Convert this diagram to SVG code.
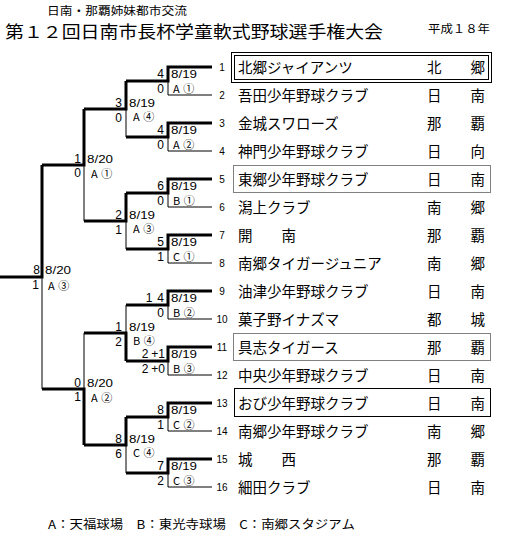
<svg xmlns="http://www.w3.org/2000/svg" width="510" height="544" viewBox="0 0 510 544">
<style>
.jp{font-family:"Noto Sans CJK JP","Noto Sans CJK SC",sans-serif;fill:#000}
.tm{font-family:"Noto Sans CJK JP",sans-serif;font-size:14.5px;fill:#000}
.n{font-family:"Liberation Sans",sans-serif;font-size:10px;fill:#000;text-anchor:middle}
.s{font-family:"Liberation Sans",sans-serif;font-size:12px;fill:#000;text-anchor:end}
.d{font-family:"Liberation Sans",sans-serif;font-size:11.5px;fill:#000}
.v{font-family:"Noto Sans CJK JP",sans-serif;font-size:11px;fill:#000;letter-spacing:3.5px}
.thick{fill:none;stroke:#000;stroke-width:3;stroke-linejoin:miter}
.thin{fill:none;stroke:#000;stroke-width:1}
.box{fill:none;stroke:#000;stroke-width:1}
.dot{fill:none;stroke:#000;stroke-width:1;stroke-dasharray:1 1}
</style>
<g id="header">
<text class="jp" x="47" y="14.5" font-size="11.5" textLength="140" lengthAdjust="spacingAndGlyphs">日南・那覇姉妹都市交流</text>
<text class="jp" x="5" y="37.5" font-size="16.5" textLength="378" lengthAdjust="spacingAndGlyphs">第１２回日南市長杯学童軟式野球選手権大会</text>
<text class="jp" x="428" y="33" font-size="11.5" textLength="62" lengthAdjust="spacingAndGlyphs">平成１８年</text>
</g>
<g id="connectors">
<path class="thick" d="M212,67H168V81H126"/><path class="thin" d="M212,95H168V81"/>
<path class="thick" d="M212,123H168V137H126"/><path class="thin" d="M212,151H168V137"/>
<path class="thick" d="M212,179H168V193H126"/><path class="thin" d="M212,207H168V193"/>
<path class="thick" d="M212,235H168V249H126"/><path class="thin" d="M212,263H168V249"/>
<path class="thick" d="M212,291H168V305H126"/><path class="thin" d="M212,319H168V305"/>
<path class="thick" d="M212,347H168V361H126"/><path class="thin" d="M212,375H168V361"/>
<path class="thick" d="M212,403H168V417H126"/><path class="thin" d="M212,431H168V417"/>
<path class="thick" d="M212,459H168V473H126"/><path class="thin" d="M212,487H168V473"/>
<path class="thick" d="M126,81V109H84"/><path class="thin" d="M126,137V109"/>
<path class="thick" d="M126,193V221H84"/><path class="thin" d="M126,249V221"/>
<path class="thick" d="M126,361V333H84"/><path class="thin" d="M126,305V333"/>
<path class="thick" d="M126,417V445H84"/><path class="thin" d="M126,473V445"/>
<path class="thick" d="M84,109V165H42"/><path class="thin" d="M84,221V165"/>
<path class="thick" d="M84,445V389H42"/><path class="thin" d="M84,333V389"/>
<path class="thick" d="M42,165V277H0"/><path class="thin" d="M42,389V277"/>
</g>
<g id="scores">
<text class="s" x="164" y="78">4</text><text class="d" x="171" y="78" textLength="26" lengthAdjust="spacingAndGlyphs">8/19</text><text class="s" x="164" y="93">0</text><text class="v" x="173" y="93">A①</text>
<text class="s" x="164" y="134">4</text><text class="d" x="171" y="134" textLength="26" lengthAdjust="spacingAndGlyphs">8/19</text><text class="s" x="164" y="149">0</text><text class="v" x="173" y="149">A②</text>
<text class="s" x="164" y="190">6</text><text class="d" x="171" y="190" textLength="26" lengthAdjust="spacingAndGlyphs">8/19</text><text class="s" x="164" y="205">0</text><text class="v" x="173" y="205">B①</text>
<text class="s" x="164" y="246">5</text><text class="d" x="171" y="246" textLength="26" lengthAdjust="spacingAndGlyphs">8/19</text><text class="s" x="164" y="261">1</text><text class="v" x="173" y="261">C①</text>
<text class="s" x="164" y="302">1<tspan dx="5">4</tspan></text><text class="d" x="171" y="302" textLength="26" lengthAdjust="spacingAndGlyphs">8/19</text><text class="s" x="164" y="317">0</text><text class="v" x="173" y="317">B②</text>
<text class="s" x="165" y="358">2<tspan dx="3">+1</tspan></text><text class="d" x="171" y="358" textLength="26" lengthAdjust="spacingAndGlyphs">8/19</text><text class="s" x="165" y="373">2<tspan dx="3">+0</tspan></text><text class="v" x="173" y="373">B③</text>
<text class="s" x="164" y="414">8</text><text class="d" x="171" y="414" textLength="26" lengthAdjust="spacingAndGlyphs">8/19</text><text class="s" x="164" y="429">1</text><text class="v" x="173" y="429">C②</text>
<text class="s" x="164" y="470">7</text><text class="d" x="171" y="470" textLength="26" lengthAdjust="spacingAndGlyphs">8/19</text><text class="s" x="164" y="485">2</text><text class="v" x="173" y="485">C③</text>
<text class="s" x="122" y="107">3</text><text class="d" x="129" y="107" textLength="26" lengthAdjust="spacingAndGlyphs">8/19</text><text class="s" x="122" y="122">0</text><text class="v" x="133" y="121">A④</text>
<text class="s" x="122" y="219">2</text><text class="d" x="129" y="219" textLength="26" lengthAdjust="spacingAndGlyphs">8/19</text><text class="s" x="122" y="234">1</text><text class="v" x="133" y="233">A③</text>
<text class="s" x="122" y="331">1</text><text class="d" x="129" y="331" textLength="26" lengthAdjust="spacingAndGlyphs">8/19</text><text class="s" x="122" y="346">2</text><text class="v" x="133" y="345">B④</text>
<text class="s" x="122" y="443">8</text><text class="d" x="129" y="443" textLength="26" lengthAdjust="spacingAndGlyphs">8/19</text><text class="s" x="122" y="458">6</text><text class="v" x="133" y="457">C④</text>
<text class="s" x="81" y="163">1</text><text class="d" x="87" y="163" textLength="26" lengthAdjust="spacingAndGlyphs">8/20</text><text class="s" x="81" y="177">0</text><text class="v" x="91" y="178">A①</text>
<text class="s" x="81" y="387">0</text><text class="d" x="87" y="387" textLength="26" lengthAdjust="spacingAndGlyphs">8/20</text><text class="s" x="81" y="401">1</text><text class="v" x="91" y="402">A②</text>
<text class="s" x="40" y="274">8</text><text class="d" x="45" y="274" textLength="26" lengthAdjust="spacingAndGlyphs">8/20</text><text class="s" x="39" y="289">1</text><text class="v" x="48" y="290">A③</text>
</g>
<g id="boxes">
<rect class="box" x="231.5" y="52.5" width="260" height="30"/>
<rect class="box" x="234.5" y="55.5" width="254" height="24"/>
<rect class="dot" x="233.5" y="165.5" width="257" height="27"/>
<rect class="dot" x="233.5" y="333.5" width="257" height="27"/>
<rect class="box" x="234.5" y="388.5" width="256" height="28"/>
</g>
<g id="team1"><text class="n" x="222" y="71">1</text><text class="tm" x="238" y="73">北郷ジャイアンツ</text><text class="tm" x="427" y="73">北　　郷</text></g>
<g id="team2"><text class="n" x="222" y="99">2</text><text class="tm" x="238" y="101">吾田少年野球クラブ</text><text class="tm" x="427" y="101">日　　南</text></g>
<g id="team3"><text class="n" x="222" y="127">3</text><text class="tm" x="238" y="129">金城スワローズ</text><text class="tm" x="427" y="129">那　　覇</text></g>
<g id="team4"><text class="n" x="222" y="155">4</text><text class="tm" x="238" y="157">神門少年野球クラブ</text><text class="tm" x="427" y="157">日　　向</text></g>
<g id="team5"><text class="n" x="222" y="183">5</text><text class="tm" x="238" y="185">東郷少年野球クラブ</text><text class="tm" x="427" y="185">日　　南</text></g>
<g id="team6"><text class="n" x="222" y="211">6</text><text class="tm" x="238" y="213">潟上クラブ</text><text class="tm" x="427" y="213">南　　郷</text></g>
<g id="team7"><text class="n" x="222" y="239">7</text><text class="tm" x="238" y="241">開　　南</text><text class="tm" x="427" y="241">那　　覇</text></g>
<g id="team8"><text class="n" x="222" y="267">8</text><text class="tm" x="238" y="269">南郷タイガージュニア</text><text class="tm" x="427" y="269">南　　郷</text></g>
<g id="team9"><text class="n" x="222" y="295">9</text><text class="tm" x="238" y="297">油津少年野球クラブ</text><text class="tm" x="427" y="297">日　　南</text></g>
<g id="team10"><text class="n" x="222" y="323">10</text><text class="tm" x="238" y="325">菓子野イナズマ</text><text class="tm" x="427" y="325">都　　城</text></g>
<g id="team11"><text class="n" x="222" y="351">11</text><text class="tm" x="238" y="353">具志タイガース</text><text class="tm" x="427" y="353">那　　覇</text></g>
<g id="team12"><text class="n" x="222" y="379">12</text><text class="tm" x="238" y="381">中央少年野球クラブ</text><text class="tm" x="427" y="381">日　　南</text></g>
<g id="team13"><text class="n" x="222" y="407">13</text><text class="tm" x="238" y="409">おび少年野球クラブ</text><text class="tm" x="427" y="409">日　　南</text></g>
<g id="team14"><text class="n" x="222" y="435">14</text><text class="tm" x="238" y="437">南郷少年野球クラブ</text><text class="tm" x="427" y="437">南　　郷</text></g>
<g id="team15"><text class="n" x="222" y="463">15</text><text class="tm" x="238" y="465">城　　西</text><text class="tm" x="427" y="465">那　　覇</text></g>
<g id="team16"><text class="n" x="222" y="491">16</text><text class="tm" x="238" y="493">細田クラブ</text><text class="tm" x="427" y="493">日　　南</text></g>
<g id="legend">
<text class="jp" x="48" y="529" font-size="12" textLength="307" lengthAdjust="spacingAndGlyphs">A：天福球場　B：東光寺球場　C：南郷スタジアム</text>
</g>
</svg>
